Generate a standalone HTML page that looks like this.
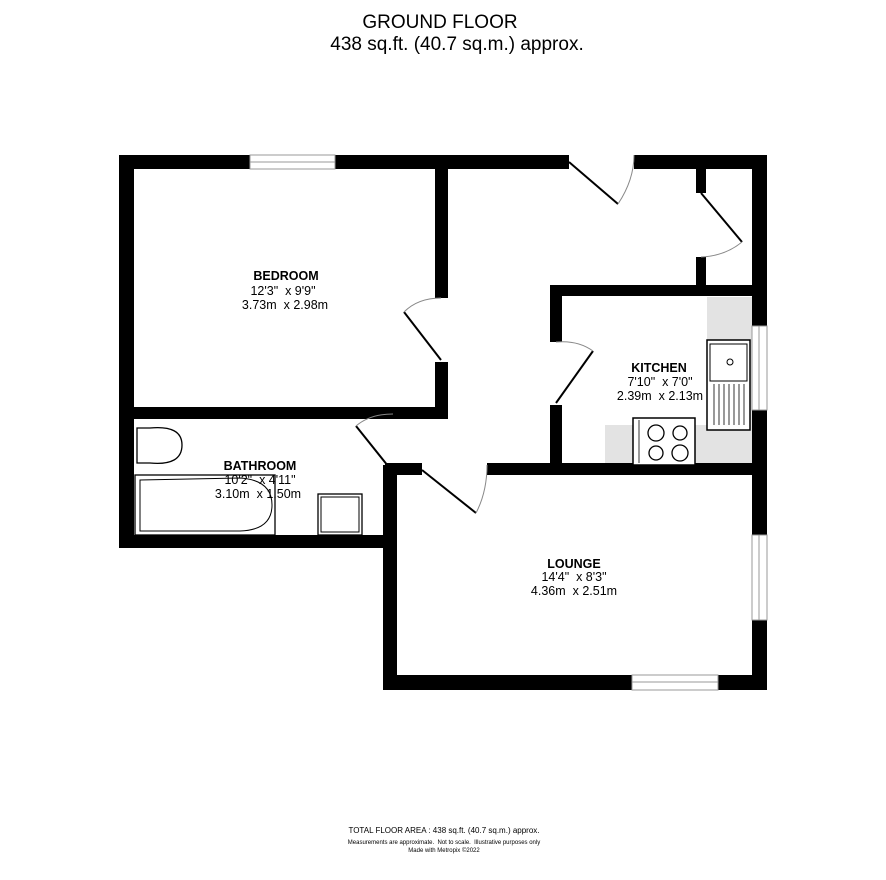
<!DOCTYPE html>
<html><head><meta charset="utf-8"><style>
html,body{margin:0;padding:0;background:#fff;}
svg{display:block;}
text{font-family:"Liberation Sans",sans-serif;fill:#000;white-space:pre;}
</style></head><body>
<svg width="886" height="880" viewBox="0 0 886 880" xml:space="preserve">
<text x="440" y="28" font-size="19" text-anchor="middle">GROUND FLOOR</text>
<text x="457" y="50" font-size="19" text-anchor="middle">438 sq.ft. (40.7 sq.m.) approx.</text>

<rect x="707" y="297" width="45" height="168" fill="#e3e3e3"/>
<rect x="605" y="425" width="147" height="40" fill="#e3e3e3"/>

<g fill="#000">
<rect x="119" y="155" width="131" height="14"/>
<rect x="335" y="155" width="234" height="14"/>
<rect x="634" y="155" width="133" height="14"/>
<rect x="119" y="155" width="15" height="393"/>
<rect x="752" y="155" width="15" height="171"/>
<rect x="752" y="410" width="15" height="125"/>
<rect x="752" y="620" width="15" height="70"/>
<rect x="696" y="155" width="10" height="38"/>
<rect x="696" y="257" width="10" height="38"/>
<rect x="550" y="285" width="217" height="11"/>
<rect x="550" y="285" width="12" height="57"/>
<rect x="550" y="405" width="12" height="60"/>
<rect x="487" y="463" width="280" height="12"/>
<rect x="385" y="463" width="37" height="12"/>
<rect x="435" y="169" width="13" height="129"/>
<rect x="435" y="362" width="13" height="56"/>
<rect x="119" y="407" width="329" height="12"/>
<rect x="119" y="535" width="276" height="13"/>
<rect x="383" y="465" width="14" height="225"/>
<rect x="383" y="675" width="249" height="15"/>
<rect x="718" y="675" width="49" height="15"/>
</g>

<g fill="#fff" stroke="#999" stroke-width="1">
<rect x="250" y="155" width="85" height="14"/>
<line x1="250" y1="162" x2="335" y2="162"/>
<rect x="752" y="326" width="15" height="84"/>
<line x1="759" y1="326" x2="759" y2="410"/>
<rect x="752" y="535" width="15" height="85"/>
<line x1="759" y1="535" x2="759" y2="620"/>
<rect x="632" y="675" width="86" height="15"/>
<line x1="632" y1="682" x2="718" y2="682"/>
</g>

<g stroke="#000" stroke-width="2" fill="none">
<line x1="569" y1="162" x2="618" y2="204"/>
<line x1="701" y1="193" x2="742" y2="242"/>
<line x1="441" y1="360" x2="404" y2="312"/>
<line x1="556" y1="403" x2="593" y2="351"/>
<line x1="388" y1="466" x2="356" y2="426"/>
<line x1="422" y1="470" x2="476" y2="513"/>
</g>
<g stroke="#888" stroke-width="1" fill="none">
<path d="M618 204 Q634 180 634 155"/>
<path d="M742 242 Q725 256 701 257"/>
<path d="M404 312 Q418 298 441 298"/>
<path d="M593 351 Q578 340 556 342"/>
<path d="M356 426 Q370 414 393 414"/>
<path d="M476 513 Q487 492 487 465"/>
</g>

<g stroke="#000" stroke-width="1.5" fill="#fff">
<rect x="707" y="340" width="43" height="90"/>
<rect x="710" y="344" width="37" height="37" stroke-width="1"/>
<circle cx="730" cy="362" r="3" stroke-width="1"/>
<rect x="633" y="418" width="62" height="47"/>
<circle cx="656" cy="433" r="8" stroke-width="1.3"/>
<circle cx="680" cy="433" r="7" stroke-width="1.3"/>
<circle cx="656" cy="453" r="7" stroke-width="1.3"/>
<circle cx="680" cy="453" r="8" stroke-width="1.3"/>
</g>
<g stroke="#000" stroke-width="0.8">
<line x1="714" y1="384" x2="714" y2="425"/><line x1="719" y1="384" x2="719" y2="425"/>
<line x1="724" y1="384" x2="724" y2="425"/><line x1="729" y1="384" x2="729" y2="425"/>
<line x1="734" y1="384" x2="734" y2="425"/><line x1="739" y1="384" x2="739" y2="425"/>
<line x1="744" y1="384" x2="744" y2="425"/>
<line x1="639" y1="420" x2="639" y2="463"/>
</g>

<g stroke="#000" stroke-width="1.3" fill="#fff">
<path d="M137 428 L150 428 Q182 425 182 445 Q182 466 150 463 L137 463 Z"/>
<rect x="135" y="475" width="140" height="60"/>
<path d="M140 480 L240 478 Q272 480 272 505 Q272 530 240 531 L140 531 Z" stroke-width="1"/>
<rect x="318" y="494" width="44" height="41"/>
<rect x="321" y="497" width="38" height="35" stroke-width="1"/>
</g>

<g font-weight="bold" font-size="12.5" text-anchor="middle">
<text x="286" y="280">BEDROOM</text>
<text x="659" y="372">KITCHEN</text>
<text x="260" y="470">BATHROOM</text>
<text x="574" y="568">LOUNGE</text>
</g>
<g font-size="12.5" text-anchor="middle">
<text x="283" y="295">12'3"  x 9'9"</text>
<text x="285" y="309">3.73m  x 2.98m</text>
<text x="660" y="386">7'10"  x 7'0"</text>
<text x="660" y="400">2.39m  x 2.13m</text>
<text x="260" y="484">10'2"  x 4'11"</text>
<text x="258" y="498">3.10m  x 1.50m</text>
<text x="574" y="581">14'4"  x 8'3"</text>
<text x="574" y="595">4.36m  x 2.51m</text>
</g>

<g text-anchor="middle">
<text x="444" y="833" font-size="8">TOTAL FLOOR AREA : 438 sq.ft. (40.7 sq.m.) approx.</text>
<text x="444" y="844" font-size="6">Measurements are approximate.  Not to scale.  Illustrative purposes only</text>
<text x="444" y="852" font-size="6">Made with Metropix ©2022</text>
</g>
</svg>
</body></html>
